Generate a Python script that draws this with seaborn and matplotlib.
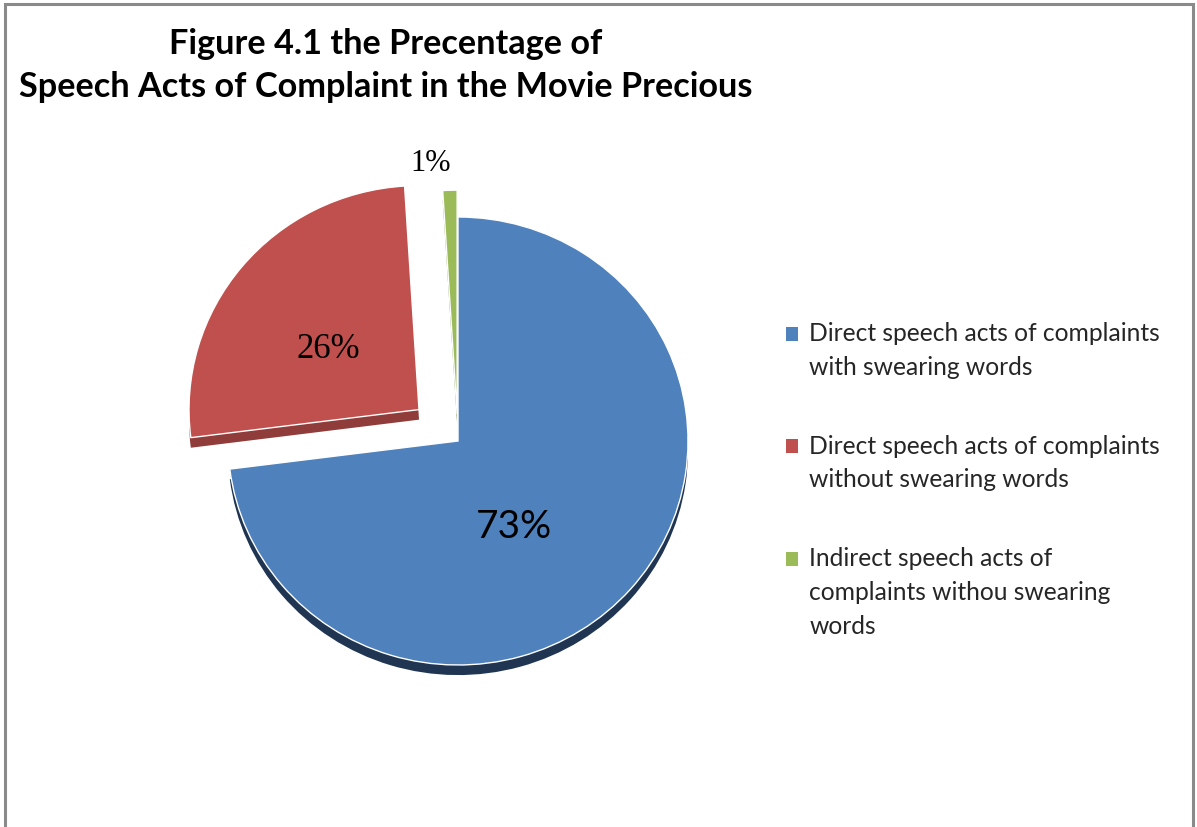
import matplotlib
matplotlib.use("Agg")
import matplotlib.pyplot as plt
import seaborn as sns
import numpy as np
from matplotlib.patches import Rectangle, Patch
from matplotlib.colors import to_rgb
from matplotlib.legend_handler import HandlerBase

categories = [
    "Direct speech acts of complaints\nwith swearing words",
    "Direct speech acts of complaints\nwithout swearing words",
    "Indirect speech acts of\ncomplaints withou swearing\nwords",
]
values = [73, 26, 1]
colors = ["#4F81BD", "#C0504D", "#9BBB59"]
explode = [0.0, 0.22, 0.12]
title = "Figure 4.1 the Precentage of\nSpeech Acts of Complaint in the Movie Precious"

sns.set_theme(style="white")
plt.rcParams["font.family"] = ["Lato", "DejaVu Sans"]

fig = plt.figure(figsize=(11.97, 8.28), dpi=100)
fig.patch.set_facecolor("white")

# outer frame (bottom edge cropped in reference)
fig.patches.append(Rectangle((5 / 1197, -0.05), 1188 / 1197, 1.05 - 5 / 828,
                             transform=fig.transFigure, fill=False,
                             edgecolor="#8a8a8a", linewidth=2.2, zorder=0))

# slightly flattened vertically (perspective look of the original)
ax = fig.add_axes([113 / 1197, 50 / 828, 690 / 1197, 672 / 828])

# depth / rim layer
dark = [tuple(c * 0.75 for c in to_rgb(col)) for col in colors]
dark[0] = "#1f3552"
ax.pie(values, colors=dark, startangle=90, counterclock=False,
       explode=explode, center=(0, -0.045), radius=1.0,
       wedgeprops=dict(linewidth=0))

wedges, texts = ax.pie(values, colors=colors, startangle=90, counterclock=False,
                       explode=explode, radius=1.0,
                       wedgeprops=dict(edgecolor="white", linewidth=1.0))

ax.set_aspect("auto")
ax.set_xlim(-1.5, 1.5)
ax.set_ylim(-1.5, 1.5)
ax.axis("off")

# label placement: fraction along each wedge's angular span, radial distance
label_frac = [0.44, 0.55, 1.6]
label_dist = [0.45, 0.48, 1.13]
label_size = [28, 25, 22]
label_family = [["Lato", "DejaVu Sans"], ["Liberation Serif"], ["Liberation Serif"]]
for w, v, f, d, s, fam in zip(wedges, values, label_frac, label_dist, label_size, label_family):
    ang = np.deg2rad(w.theta1 + f * (w.theta2 - w.theta1))
    cx, cy = w.center
    ax.text(cx + d * np.cos(ang), cy + d * np.sin(ang), f"{v}%",
            ha="center", va="center", fontsize=s, family=fam, color="black")

fig.text(0.3225, 0.966, title, ha="center", va="top", fontsize=24.7,
         fontweight="bold", linespacing=1.4, color="black")


class TopSquare(HandlerBase):
    """Square legend key aligned with the first line of a multi-line label."""

    def __init__(self, shift):
        super().__init__()
        self.shift = shift

    def create_artists(self, legend, orig_handle, xdescent, ydescent,
                       width, height, fontsize, trans):
        r = Rectangle((-xdescent, -ydescent + self.shift), width, height,
                      facecolor=orig_handle.get_facecolor(), edgecolor="none",
                      transform=trans)
        return [r]


handles = [Patch(facecolor=c, edgecolor="none") for c in colors]
line_pt = 33 * 72 / 100
hmap = {h: TopSquare((lab.count("\n")) / 2 * line_pt) for h, lab in zip(handles, categories)}
leg = fig.legend(handles, categories, loc="upper left",
                 bbox_to_anchor=(786 / 1197, 1 - 322 / 828), frameon=False,
                 fontsize=17.7, handlelength=0.5, handleheight=0.5,
                 handletextpad=0.45, labelspacing=2.28, borderpad=0,
                 borderaxespad=0, handler_map=hmap)
for t in leg.get_texts():
    t.set_linespacing(1.56)

fig.savefig("out.png", dpi=100)
